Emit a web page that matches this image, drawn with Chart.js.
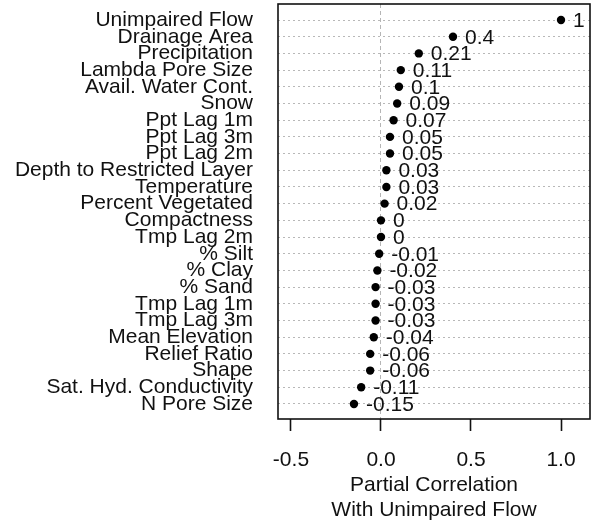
<!DOCTYPE html>
<html>
<head>
<meta charset="utf-8">
<script src="https://cdn.jsdelivr.net/npm/chart.js@4"></script>
<style>
  html, body { margin: 0; padding: 0; background: #ffffff; }
  #wrap { width: 591px; height: 525px; }
</style>
</head>
<body>
<div id="wrap"><canvas id="chart" width="591" height="525"></canvas></div>
<script>
// Predictor names, top row first
const predictors = [
  'Unimpaired Flow', 'Drainage Area', 'Precipitation', 'Lambda Pore Size',
  'Avail. Water Cont.', 'Snow', 'Ppt Lag 1m', 'Ppt Lag 3m', 'Ppt Lag 2m',
  'Depth to Restricted Layer', 'Temperature', 'Percent Vegetated',
  'Compactness', 'Tmp Lag 2m', '% Silt', '% Clay', '% Sand',
  'Tmp Lag 1m', 'Tmp Lag 3m', 'Mean Elevation', 'Relief Ratio', 'Shape',
  'Sat. Hyd. Conductivity', 'N Pore Size'
];

// Partial correlation of each predictor with unimpaired flow
const partialCorr = [
  1, 0.4, 0.21, 0.11, 0.1, 0.09, 0.07, 0.05, 0.05,
  0.03, 0.03, 0.02, 0, 0, -0.01, -0.02, -0.03,
  -0.03, -0.03, -0.04, -0.06, -0.06, -0.11, -0.15
];

// Tick values on the correlation axis
const xTickValues = [-0.5, 0, 0.5, 1.0];

const FONT = '"Liberation Sans", Arial, Helvetica, sans-serif';
const TEXT = '#111111';

// Writes each value just to the right of its dot
const valueLabels = {
  id: 'valueLabels',
  afterDatasetsDraw(chart) {
    const ctx = chart.ctx;
    const meta = chart.getDatasetMeta(0);
    ctx.save();
    ctx.font = '21px ' + FONT;
    ctx.fillStyle = TEXT;
    ctx.textAlign = 'left';
    ctx.textBaseline = 'middle';
    meta.data.forEach((pt, i) => {
      ctx.fillText(String(partialCorr[i]), pt.x + 12, pt.y + 1);
    });
    ctx.restore();
  }
};

// Box round the plotting region
const plotBox = {
  id: 'plotBox',
  afterDraw(chart) {
    const a = chart.chartArea;
    const ctx = chart.ctx;
    ctx.save();
    ctx.strokeStyle = '#111111';
    ctx.lineWidth = 1.6;
    ctx.strokeRect(a.left, a.top, a.right - a.left, a.bottom - a.top);
    ctx.restore();
  }
};

new Chart(document.getElementById('chart'), {
  type: 'scatter',
  data: {
    datasets: [{
      data: partialCorr.map((v, i) => ({ x: v, y: i })),
      pointRadius: 4.2,
      pointHoverRadius: 4.2,
      pointBackgroundColor: '#000000',
      pointBorderColor: '#000000',
      pointBorderWidth: 0,
      clip: false
    }]
  },
  options: {
    responsive: false,
    animation: false,
    events: [],
    layout: { autoPadding: false, padding: { top: 4, right: 1, left: 0, bottom: 0 } },
    plugins: {
      legend: { display: false },
      tooltip: { enabled: false }
    },
    scales: {
      x: {
        type: 'linear',
        min: -0.572,
        max: 1.161,
        afterBuildTicks: (scale) => {
          scale.ticks = xTickValues.map(v => ({ value: v }));
        },
        afterFit: (scale) => {
          scale.height = 106;
          scale.paddingLeft = 0;
          scale.paddingRight = 0;
        },
        border: { display: false, dash: [4, 3] },
        grid: {
          color: (c) => (c.tick && c.tick.value === 0) ? '#b5b5b5' : 'rgba(0,0,0,0)',
          lineWidth: 1,
          drawTicks: true,
          tickLength: 12,
          tickColor: '#111111',
          tickWidth: 1.6
        },
        ticks: {
          padding: 17,
          color: TEXT,
          font: { family: FONT, size: 21 },
          callback: (v) => Number(v).toFixed(1),
          maxRotation: 0
        },
        title: {
          display: true,
          text: ['Partial Correlation', 'With Unimpaired Flow'],
          color: TEXT,
          font: { family: FONT, size: 21, lineHeight: 1.2 },
          padding: { top: 0, bottom: 2 }
        }
      },
      y: {
        type: 'linear',
        reverse: true,
        min: -0.96,
        max: 23.9,
        afterBuildTicks: (scale) => {
          scale.ticks = predictors.map((_, i) => ({ value: i }));
        },
        afterFit: (scale) => {
          scale.width = 278;
          scale.paddingTop = 0;
          scale.paddingBottom = 0;
        },
        border: { display: false, dash: [2, 3] },
        grid: {
          color: '#b8b8b8',
          lineWidth: 1,
          drawTicks: false
        },
        ticks: {
          padding: 25,
          color: TEXT,
          autoSkip: false,
          font: { family: FONT, size: 21 },
          callback: (v) => predictors[v] ?? ''
        }
      }
    }
  },
  plugins: [valueLabels, plotBox]
});
</script>
</body>
</html>
